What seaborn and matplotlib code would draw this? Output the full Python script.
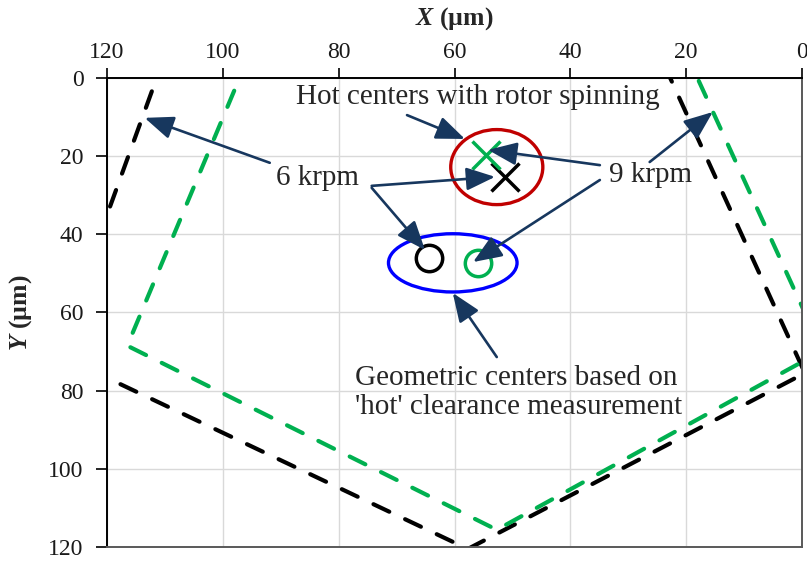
import matplotlib
matplotlib.use("Agg")
import matplotlib.pyplot as plt
from matplotlib.patches import Ellipse
import seaborn as sns

# outline of the bearing clearance at the two speeds (um), clipped by the axes
black_x = [110.2, 128.7, 57.7, -0.5, 24.3]
black_y = [-5.0, 70.6, 120.5, 75.5, -5.0]
green_x = [95.7, 116.5, 52.7, -3.5, 19.6]
green_y = [-5.0, 68.5, 115.6, 69.8, -5.0]

# hot centers (rotor spinning) and geometric centers, 6 krpm / 9 krpm
hot_x = [51.3, 54.6]
hot_y = [25.3, 19.7]
geo_x = [64.4, 56.0]
geo_y = [46.0, 47.3]
speed_colors = ["black", "#00B050"]

ticks = [0, 20, 40, 60, 80, 100, 120]

sns.set_theme(style="whitegrid")
plt.rcParams["font.family"] = ["Liberation Serif", "DejaVu Serif"]
plt.rcParams["mathtext.fontset"] = "custom"
plt.rcParams["mathtext.bfit"] = "Liberation Serif:italic:bold"
plt.rcParams["mathtext.rm"] = "Liberation Serif"

fig = plt.figure(figsize=(8.07, 5.63), dpi=100)
ax = fig.add_axes([0.1326, 0.0284, 0.8612, 0.8331])

dash = (0, (4.2, 4.2))
sns.lineplot(x=black_x, y=black_y, sort=False, estimator=None, color="black",
             linewidth=3.0, ax=ax, linestyle=dash, dash_capstyle="round")
sns.lineplot(x=green_x, y=green_y, sort=False, estimator=None, color="#00B050",
             linewidth=3.0, ax=ax, linestyle=dash, dash_capstyle="round")

for i in range(2):
    ax.plot(hot_x[i], hot_y[i], marker="x", ms=20, mew=2.5, color=speed_colors[i], zorder=5)
    ax.plot(geo_x[i], geo_y[i], marker="o", ms=19, mew=2.5, mfc="none",
            color=speed_colors[i], zorder=5)

ax.add_patch(Ellipse((52.7, 22.8), 15.9, 19.2, fill=False, ec="#C00000", lw=2.4, zorder=4))
ax.add_patch(Ellipse((60.3, 47.3), 22.2, 14.9, fill=False, ec="#0000FF", lw=2.4, zorder=4))

arrow = dict(arrowstyle="-|>,head_length=0.8,head_width=0.32", color="#17375E",
             lw=1.9, mutation_scale=22, shrinkA=0, shrinkB=0)
# (tail, head) pairs in data units
arrows = [
    ((68.2, 9.5), (58.2, 15.6)),
    ((91.9, 21.7), (113.5, 10.2)),
    ((74.3, 27.6), (53.0, 25.3)),
    ((74.3, 28.1), (65.1, 44.0)),
    ((34.9, 22.3), (54.2, 18.4)),
    ((34.9, 26.1), (56.8, 47.1)),
    ((26.3, 21.5), (15.4, 8.7)),
    ((52.7, 71.4), (60.3, 55.0)),
]
for tail, head in arrows:
    ax.annotate("", xy=head, xytext=tail, arrowprops=arrow, zorder=6)

fs = 21
ax.text(56.0, 4.9, "Hot centers with rotor spinning", fontsize=fs, ha="center", va="center")
ax.text(83.6, 25.6, "6 krpm", fontsize=fs, ha="center", va="center")
ax.text(26.1, 24.8, "9 krpm", fontsize=fs, ha="center", va="center")
ax.text(77.2, 80.5, "Geometric centers based on\n'hot' clearance measurement",
        fontsize=fs, ha="left", va="center", linespacing=1.15)

ax.set_xlim(120, 0)
ax.set_ylim(120, 0)
ax.set_xticks(ticks)
ax.set_yticks(ticks)
ax.xaxis.tick_top()
ax.xaxis.set_label_position("top")
ax.tick_params(axis="x", top=True, labeltop=True, bottom=False, labelbottom=False,
               length=7, width=1.2, color="black", direction="out", pad=4, labelsize=17,
               labelcolor="#1a1a1a")
ax.tick_params(axis="y", left=True, length=8, width=1.2, color="black", direction="out",
               pad=9, labelsize=17, labelcolor="#1a1a1a")
ax.grid(color="#d9d9d9", lw=1)
ax.set_facecolor("white")
for side in ["top", "left"]:
    ax.spines[side].set_color("black")
    ax.spines[side].set_linewidth(1.4)
for side in ["bottom", "right"]:
    ax.spines[side].set_color("#595959")
    ax.spines[side].set_linewidth(1.4)

ax.set_xlabel(r"$\mathbfit{X}$ (µm)", fontsize=18.5, fontweight="bold", labelpad=12)
ax.set_ylabel(r"$\mathbfit{Y}$ (µm)", fontsize=18.5, fontweight="bold", labelpad=10)

fig.savefig("out.png", dpi=100)
